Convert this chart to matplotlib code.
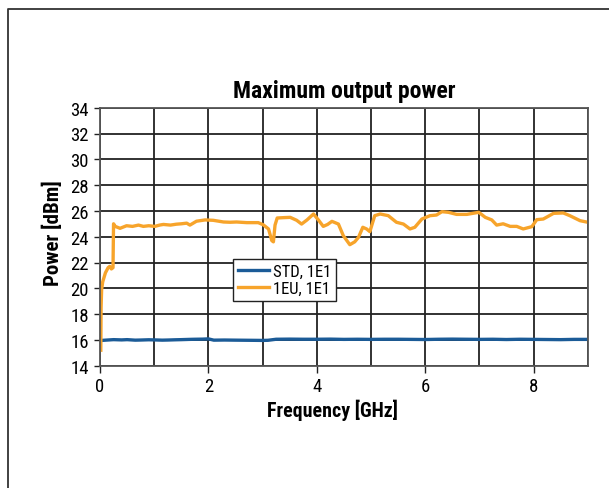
import matplotlib
matplotlib.use("Agg")
import matplotlib.pyplot as plt
from matplotlib.lines import Line2D
from matplotlib import font_manager

# ---------------- data ----------------
freq_eu = [0.015, 0.02, 0.03, 0.05, 0.10, 0.15, 0.18, 0.21, 0.24, 0.25, 0.28, 0.37,
           0.49, 0.60, 0.71, 0.80, 0.90, 1.01, 1.10, 1.17, 1.30, 1.41, 1.50, 1.60,
           1.66, 1.78, 1.94, 2.09, 2.28, 2.40, 2.52, 2.71, 2.92, 3.01, 3.11, 3.17,
           3.20, 3.23, 3.27, 3.40, 3.51, 3.63, 3.72, 3.82, 3.94, 4.03, 4.12, 4.20,
           4.28, 4.40, 4.49, 4.61, 4.70, 4.77, 4.85, 4.92, 4.98, 5.07, 5.17, 5.32,
           5.47, 5.60, 5.72, 5.81, 5.94, 6.09, 6.21, 6.31, 6.43, 6.58, 6.77, 6.92,
           6.99, 7.11, 7.23, 7.32, 7.44, 7.57, 7.69, 7.81, 7.97, 8.06, 8.18, 8.37,
           8.55, 8.67, 8.86, 9.00]
power_eu = [15.2, 18.5, 19.9, 20.5, 21.2, 21.6, 21.7, 21.5, 21.6, 25.0, 24.8, 24.65,
            24.85, 24.8, 24.9, 24.8, 24.85, 24.8, 24.9, 24.95, 24.9, 24.97, 25.0, 25.05,
            24.9, 25.2, 25.3, 25.27, 25.14, 25.12, 25.14, 25.09, 25.09, 24.93, 24.6, 23.7,
            23.6, 24.9, 25.45, 25.48, 25.5, 25.27, 24.98, 25.3, 25.76, 25.3, 24.8, 24.95,
            25.19, 24.98, 24.08, 23.38, 23.6, 23.95, 24.73, 24.6, 24.39, 25.63, 25.76, 25.63,
            25.12, 24.98, 24.6, 24.73, 25.37, 25.63, 25.68, 25.94, 25.89, 25.73, 25.73, 25.84,
            25.89, 25.5, 25.3, 24.9, 25.0, 24.8, 24.8, 24.6, 24.78, 25.32, 25.37, 25.81,
            25.84, 25.63, 25.24, 25.12]

freq_std = [0.00, 0.10, 0.25, 0.40, 0.50, 0.65, 0.75, 0.90, 1.00, 1.15, 1.25, 1.40,
            1.50, 1.65, 1.75, 1.90, 2.00, 2.10, 2.30, 2.50, 2.75, 3.00, 3.10, 3.25,
            3.50, 3.75, 4.00, 4.25, 4.50, 4.75, 5.00, 5.25, 5.50, 5.75, 6.00, 6.25,
            6.50, 6.75, 7.00, 7.25, 7.50, 7.75, 8.00, 8.25, 8.50, 8.75, 9.00]
power_std = [15.95, 15.98, 16.02, 16.0, 16.02, 15.98, 15.99, 16.01, 16.0, 15.98, 15.99, 16.01,
             16.02, 16.04, 16.05, 16.06, 16.08, 15.98, 15.99, 15.98, 15.97, 15.96, 15.97, 16.05,
             16.06, 16.05, 16.05, 16.06, 16.04, 16.05, 16.04, 16.05, 16.05, 16.04, 16.03, 16.05,
             16.06, 16.05, 16.04, 16.05, 16.03, 16.05, 16.04, 16.03, 16.02, 16.04, 16.04]

title = "Maximum output power"
xlabel = "Frequency [GHz]"
ylabel = "Power [dBm]"
legend_labels = ["STD, 1E1", "1EU, 1E1"]
xticks = [0, 2, 4, 6, 8]
yticks = list(range(14, 35, 2))

# ---------------- fonts ----------------
available = {f.name for f in font_manager.fontManager.ttflist}
prefs = ["Liberation Sans Narrow", "Roboto Condensed", "DejaVu Sans Condensed",
         "Open Sans Condensed", "Liberation Sans", "DejaVu Sans"]
fams = [p for p in prefs if p in available] or ["DejaVu Sans"]
plt.rcParams['font.family'] = fams

BLUE = "#1b5b97"
ORANGE = "#f7a42b"
GRID = "#222222"

W, H = 609, 489
fig = plt.figure(figsize=(W / 100, H / 100), dpi=100)
ax = fig.add_axes([100 / W, 1 - 366.7 / H, 487.7 / W, 258 / H])

ax.plot(freq_std, power_std, color=BLUE, lw=2.4, label=legend_labels[0], solid_joinstyle='round')
ax.plot(freq_eu, power_eu, color=ORANGE, lw=2.4, label=legend_labels[1], solid_joinstyle='round')

ax.set_xlim(0, 9)
ax.set_ylim(14, 34)
ax.set_xticks(xticks)
ax.set_xticks(range(0, 10), minor=True)
ax.set_yticks(yticks)
ax.grid(True, which='both', color=GRID, lw=1.3)
ax.set_axisbelow(True)
ax.tick_params(axis='x', which='major', length=5, width=1.0, color=GRID, labelsize=13.5, pad=3)
ax.tick_params(axis='x', which='minor', length=0)
ax.tick_params(axis='y', length=4, width=1.0, color=GRID, labelsize=13.5, pad=4)
for s in ax.spines.values():
    s.set_color("#555555")
    s.set_linewidth(1.3)

ax.set_title(title, fontsize=17, fontweight='bold', pad=7.5)
ax.set_xlabel(xlabel, fontsize=14.3, fontweight='bold', va='baseline')
ax.xaxis.set_label_coords((332.5 - 100) / 487.7, (366.7 - 416.7) / 258)
ax.set_ylabel(ylabel, fontsize=15, fontweight='bold', va='center')
ax.yaxis.set_label_coords((52.5 - 100) / 487.7, (366.7 - 233.5) / 258)

leg = ax.legend(loc='lower left', bbox_to_anchor=((232.7 - 100) / 487.7, (366.7 - 302) / 258),
                fontsize=12, frameon=True, fancybox=False, shadow=False,
                borderpad=0.3, handlelength=1.9, handletextpad=0.2, labelspacing=0.15,
                borderaxespad=0.0)
leg.get_frame().set_edgecolor("#222222")
leg.get_frame().set_linewidth(1.0)
leg.get_frame().set_alpha(1.0)

# outer frame (left and top edges visible)
fig.add_artist(Line2D([8 / W, 8 / W, 1.0], [0.0, 1 - 10 / H, 1 - 10 / H],
                      transform=fig.transFigure, color="#333333", lw=1.3))

fig.savefig("out.png", dpi=100)
